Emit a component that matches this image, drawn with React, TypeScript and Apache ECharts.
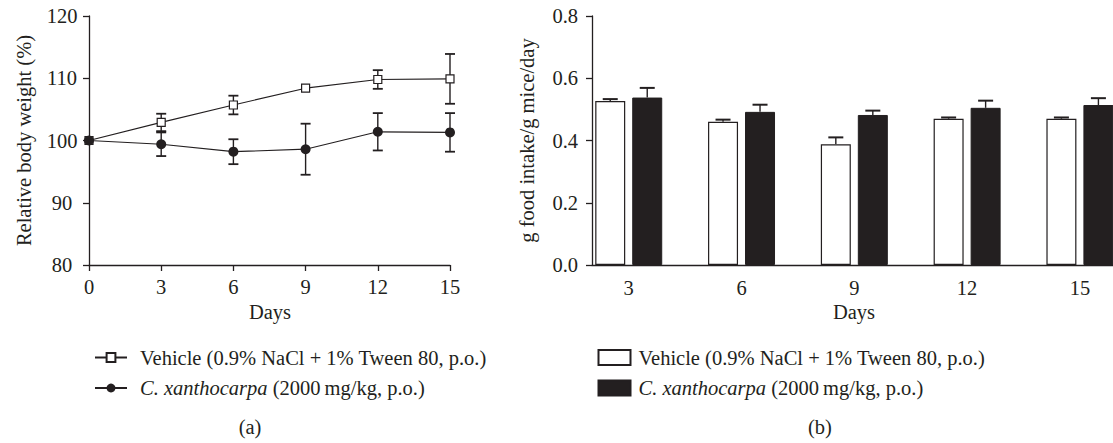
import React, { useEffect, useRef } from "react";
import * as echarts from "echarts";

// ---- Data: panel (a) relative body weight (%) ----
const daysA = [0, 3, 6, 9, 12, 15];
const vehWeight = [100, 102.9, 105.7, 108.4, 109.8, 109.9];
const vehWeightSd = [0, 1.4, 1.5, 0, 1.5, 4.0];
const cxWeight = [100, 99.4, 98.2, 98.6, 101.4, 101.3];
const cxWeightSd = [0, 1.9, 2.0, 4.1, 3.0, 3.1];

// ---- Data: panel (b) food intake ----
const daysB = [3, 6, 9, 12, 15];
const vehFood = [0.527, 0.46, 0.388, 0.47, 0.47];
const vehFoodSd = [0.006, 0.007, 0.022, 0.004, 0.004];
const cxFood = [0.538, 0.492, 0.482, 0.505, 0.514];
const cxFoodSd = [0.031, 0.023, 0.014, 0.023, 0.022];

const VEH_LABEL = "Vehicle (0.9% NaCl + 1% Tween 80, p.o.)";
const CX_LABEL = "{i|C. xanthocarpa} (2000\u2009mg/kg, p.o.)";

const INK = "#231f20";
const FONT = "Liberation Serif";
const FS = 20.5;
const BAR_W = 30;
const BAR_GAP = 7;

function errorBars(offset: number, capW: number, both: boolean, capLW: number) {
  return (params: any, api: any) => {
    const x = api.value(0);
    const m = api.value(1);
    const sd = api.value(2);
    if (!sd) return { type: "group", children: [] };
    const top = api.coord([x, m + sd]);
    const bot = api.coord([x, both ? m - sd : m]);
    const cx = top[0] + offset;
    const style = { stroke: INK, lineWidth: 1.4 };
    const capStyle = { stroke: INK, lineWidth: capLW };
    const children: any[] = [
      { type: "line", shape: { x1: cx, y1: top[1], x2: cx, y2: bot[1] }, style },
      { type: "line", shape: { x1: cx - capW / 2, y1: top[1], x2: cx + capW / 2, y2: top[1] }, style: capStyle },
    ];
    if (both) {
      children.push({ type: "line", shape: { x1: cx - capW / 2, y1: bot[1], x2: cx + capW / 2, y2: bot[1] }, style: capStyle });
    }
    return { type: "group", children };
  };
}

const axisText = { fontFamily: FONT, fontSize: FS, color: INK };
const axisLine = { show: true, lineStyle: { color: INK, width: 1.3 } };
const tick = { show: true, length: 6, lineStyle: { color: INK, width: 1.3 } };

function label(text: string, x: number, y: number) {
  return {
    type: "text",
    x,
    y,
    style: { text, font: `${FS}px "${FONT}"`, fill: INK, align: "center", verticalAlign: "middle" },
  };
}

export default function App() {
  const ref = useRef<HTMLDivElement>(null);
  useEffect(() => {
    if (!ref.current) return;
    const chart = echarts.init(ref.current, undefined, { renderer: "svg" });
    const legendFormatter = (name: string) =>
      name === "vehA" || name === "vehB" ? VEH_LABEL : CX_LABEL;
    const legendText = {
      fontFamily: FONT,
      fontSize: FS,
      color: INK,
      lineHeight: 20,
      rich: { i: { fontFamily: FONT, fontSize: FS, color: INK, fontStyle: "italic", lineHeight: 20 } },
    };
    const option: any = {
      animation: false,
      grid: [
        { left: 89, top: 16, width: 361, height: 249 },
        { left: 592, top: 16, width: 521, height: 249 },
      ],
      xAxis: [
        {
          gridIndex: 0,
          type: "value",
          min: 0,
          max: 15,
          interval: 3,
          axisLine,
          axisTick: tick,
          axisLabel: { ...axisText, margin: 11 },
          splitLine: { show: false },
        },
        {
          gridIndex: 1,
          type: "value",
          min: 2.023,
          max: 15.88,
          axisLine,
          axisTick: { show: false },
          axisLabel: { ...axisText, margin: 12, customValues: daysB },
          splitLine: { show: false },
        },
      ],
      yAxis: [
        {
          gridIndex: 0,
          type: "value",
          min: 80,
          max: 120,
          interval: 10,
          name: "Relative body weight (%)",
          nameLocation: "middle",
          nameGap: 55,
          nameTextStyle: { ...axisText },
          axisLine,
          axisTick: tick,
          axisLabel: { ...axisText, margin: 27, align: "center" },
          splitLine: { show: false },
        },
        {
          gridIndex: 1,
          type: "value",
          min: 0,
          max: 0.8,
          interval: 0.2,
          name: "g food intake/g mice/day",
          nameLocation: "middle",
          nameGap: 55,
          nameTextStyle: { ...axisText },
          axisLine,
          axisTick: tick,
          axisLabel: { ...axisText, margin: 14, formatter: (v: number) => v.toFixed(1) },
          splitLine: { show: false },
        },
      ],
      legend: [
        {
          left: 89,
          top: 342,
          orient: "vertical",
          itemWidth: 32,
          itemHeight: 11,
          itemGap: 9.5,
          selectedMode: false,
          data: ["vehA", "cxA"],
          formatter: legendFormatter,
          textStyle: { ...legendText, padding: [0, 0, 0, 8] },
        },
        {
          left: 592.5,
          top: 342,
          orient: "vertical",
          itemWidth: 32,
          itemHeight: 15,
          itemGap: 9.5,
          selectedMode: false,
          icon: "rect",
          data: ["vehB", "cxB"],
          formatter: legendFormatter,
          textStyle: { ...legendText, padding: [0, 0, 0, 3] },
        },
      ],
      graphic: [
        label("Days", 270, 312),
        label("Days", 854, 312),
        label("(a)", 250, 427),
        label("(b)", 820, 427),
      ],
      series: [
        {
          name: "errVehA",
          type: "custom",
          xAxisIndex: 0,
          yAxisIndex: 0,
          renderItem: errorBars(0, 10, true, 1.8),
          data: daysA.map((d, i) => [d, vehWeight[i], vehWeightSd[i]]),
          encode: { x: 0, y: 1 },
          z: 1,
        },
        {
          name: "errCxA",
          type: "custom",
          xAxisIndex: 0,
          yAxisIndex: 0,
          renderItem: errorBars(0, 10, true, 1.8),
          data: daysA.map((d, i) => [d, cxWeight[i], cxWeightSd[i]]),
          encode: { x: 0, y: 1 },
          z: 1,
        },
        {
          name: "vehA",
          type: "line",
          xAxisIndex: 0,
          yAxisIndex: 0,
          data: daysA.map((d, i) => [d, vehWeight[i]]),
          symbol: "rect",
          symbolSize: 8,
          showAllSymbol: true,
          lineStyle: { color: INK, width: 1.2 },
          itemStyle: { color: "#ffffff", borderColor: INK, borderWidth: 1.2 },
          z: 3,
        },
        {
          name: "cxA",
          type: "line",
          xAxisIndex: 0,
          yAxisIndex: 0,
          data: daysA.map((d, i) => [d, cxWeight[i]]),
          symbol: "circle",
          symbolSize: 10,
          showAllSymbol: true,
          lineStyle: { color: INK, width: 1.2 },
          itemStyle: { color: INK, borderColor: INK, borderWidth: 0 },
          z: 4,
        },
        {
          name: "vehB",
          type: "bar",
          xAxisIndex: 1,
          yAxisIndex: 1,
          barWidth: BAR_W,
          barGap: `${(BAR_GAP / BAR_W) * 100}%`,
          data: daysB.map((d, i) => [d, vehFood[i]]),
          itemStyle: { color: "#ffffff", borderColor: INK, borderWidth: 1.2 },
          z: 3,
        },
        {
          name: "cxB",
          type: "bar",
          xAxisIndex: 1,
          yAxisIndex: 1,
          barWidth: BAR_W,
          barGap: `${(BAR_GAP / BAR_W) * 100}%`,
          data: daysB.map((d, i) => [d, cxFood[i]]),
          itemStyle: { color: INK, borderColor: INK, borderWidth: 1 },
          z: 3,
        },
        {
          name: "errVehB",
          type: "custom",
          xAxisIndex: 1,
          yAxisIndex: 1,
          renderItem: errorBars(-(BAR_W + BAR_GAP) / 2, 15, false, 2),
          data: daysB.map((d, i) => [d, vehFood[i], vehFoodSd[i]]),
          encode: { x: 0, y: 1 },
          z: 2,
        },
        {
          name: "errCxB",
          type: "custom",
          xAxisIndex: 1,
          yAxisIndex: 1,
          renderItem: errorBars((BAR_W + BAR_GAP) / 2, 15, false, 2),
          data: daysB.map((d, i) => [d, cxFood[i], cxFoodSd[i]]),
          encode: { x: 0, y: 1 },
          z: 2,
        },
      ],
    };
    chart.setOption(option);
    return () => chart.dispose();
  }, []);
  return (
    <div
      ref={ref}
      style={{ position: "fixed", left: 0, top: 0, width: 1113, height: 443, background: "#ffffff" }}
    />
  );
}
